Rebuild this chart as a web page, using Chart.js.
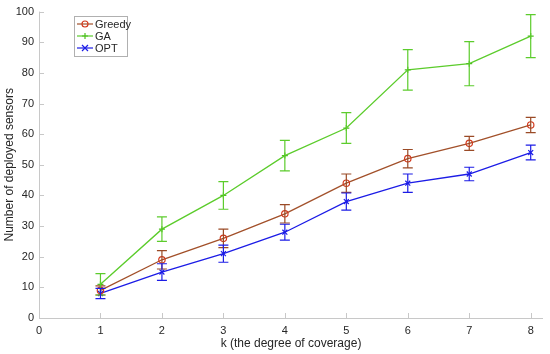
<!DOCTYPE html>
<html><head><meta charset="utf-8">
<script src="https://cdn.jsdelivr.net/npm/chart.js@4/dist/chart.umd.min.js"></script>
<style>html,body{margin:0;padding:0;background:#fff}#wrap{width:550px;height:354px}</style>
</head><body><div id="wrap"><canvas id="c" width="550" height="354"></canvas></div>
<script>
const kValues = [1,2,3,4,5,6,7,8];
const xTicks = [0,1,2,3,4,5,6,7,8];
const yTicks = [0,10,20,30,40,50,60,70,80,90,100];
const greedy = [9,19,26,34,44,52,57,63];
const greedyErr = [1.5,3,3,3,3,3,2.3,2.5];
const ga = [11,29,40,53,62,81,83,92];
const gaErr = [3.5,4,4.5,5,5,6.6,7.2,7];
const opt = [8,15,21,28,38,44,47,54];
const optErr = [1.7,2.7,2.8,2.6,2.8,3,2.2,2.4];
const seriesNames = ['Greedy','GA','OPT'];

const FONT = 'Liberation Sans, Arial, sans-serif';
const cols = {
  greedy:{line:'#a2502a', mark:'#d23a1e', err:'#9a4a26'},
  ga:{line:'#5ccc2c', mark:'#4ec020', err:'#5ccc2c'},
  opt:{line:'#1c1ce6', mark:'#1c1ce6', err:'#1c1ce6'}
};
function pts(v){return kValues.map((k,i)=>({x:k,y:v[i]}));}

const errPlugin = {
  id:'errbars',
  afterDatasetsDraw(chart){
    const ctx=chart.ctx, xs=chart.scales.x, ys=chart.scales.y;
    chart.data.datasets.forEach(ds=>{
      ctx.save(); ctx.strokeStyle=ds.errColor; ctx.lineWidth=1.2;
      ds.errs.forEach((e,i)=>{
        const px=xs.getPixelForValue(kValues[i]);
        const t=ys.getPixelForValue(ds.data[i].y+e), b=ys.getPixelForValue(ds.data[i].y-e);
        ctx.beginPath();
        ctx.moveTo(px,t);ctx.lineTo(px,b);
        ctx.moveTo(px-5,t);ctx.lineTo(px+5,t);
        ctx.moveTo(px-5,b);ctx.lineTo(px+5,b);
        ctx.stroke();
      });
      ctx.restore();
    });
  },
  afterDraw(chart){
    const ctx=chart.ctx, xs=chart.scales.x, ys=chart.scales.y, a=chart.chartArea;
    ctx.save();
    ctx.strokeStyle='#c8c8c8'; ctx.lineWidth=1;
    ctx.beginPath();
    ctx.moveTo(a.left+0.5,a.top);ctx.lineTo(a.left+0.5,a.bottom+0.5);ctx.lineTo(a.right,a.bottom+0.5);
    xTicks.forEach(v=>{const p=Math.round(xs.getPixelForValue(v))+0.5;ctx.moveTo(p,a.bottom);ctx.lineTo(p,a.bottom-5);});
    yTicks.forEach(v=>{const p=Math.round(ys.getPixelForValue(v))+0.5;ctx.moveTo(a.left,p);ctx.lineTo(a.left+5,p);});
    ctx.stroke();
    // legend
    const lx=74, ly=16, lw=53, lh=40;
    ctx.fillStyle='#fff'; ctx.fillRect(lx,ly,lw,lh);
    ctx.strokeStyle='#b0b0b0'; ctx.strokeRect(lx+0.5,ly+0.5,lw,lh);
    ctx.font='11px '+FONT; ctx.textBaseline='middle'; ctx.textAlign='left';
    chart.data.datasets.forEach((ds,i)=>{
      const y=ly+8+i*12;
      ctx.strokeStyle=ds.borderColor; ctx.lineWidth=1.2;
      ctx.beginPath();ctx.moveTo(lx+3,y);ctx.lineTo(lx+19,y);ctx.stroke();
      ctx.strokeStyle=ds.pointBorderColor;
      ctx.beginPath();
      if(ds.pointStyle==='circle'){ctx.arc(lx+11,y,3,0,Math.PI*2);}
      else if(ds.pointStyle==='cross'){ctx.moveTo(lx+8,y);ctx.lineTo(lx+14,y);ctx.moveTo(lx+11,y-3);ctx.lineTo(lx+11,y+3);}
      else {ctx.moveTo(lx+8,y-3);ctx.lineTo(lx+14,y+3);ctx.moveTo(lx+14,y-3);ctx.lineTo(lx+8,y+3);}
      ctx.stroke();
      ctx.fillStyle='#262626'; ctx.fillText(ds.label,lx+21,y+0.5);
    });
    ctx.restore();
  }
};

function mk(name,vals,errs,c,style,r){
  return {label:name,data:pts(vals),errs:errs,errColor:c.err,borderColor:c.line,borderWidth:1.3,
    pointStyle:style,pointRadius:r,pointBorderColor:c.mark,pointBackgroundColor:'rgba(0,0,0,0)',pointBorderWidth:1.2,
    showLine:true,fill:false,tension:0};
}

new Chart(document.getElementById('c'),{
  type:'scatter',
  data:{datasets:[
    mk(seriesNames[0],greedy,greedyErr,cols.greedy,'circle',3.2),
    mk(seriesNames[1],ga,gaErr,cols.ga,'cross',3),
    mk(seriesNames[2],opt,optErr,cols.opt,'crossRot',3.5)
  ]},
  options:{
    responsive:false,animation:false,devicePixelRatio:1,
    layout:{padding:{top:10,right:7,left:0,bottom:0}},
    plugins:{legend:{display:false},tooltip:{enabled:false}},
    scales:{
      x:{type:'linear',min:0,max:8.2,
        afterBuildTicks(s){s.ticks=xTicks.map(v=>({value:v}));},
        afterFit(s){s.height=36;},
        grid:{display:false,drawTicks:false},border:{display:false},
        ticks:{color:'#262626',font:{family:FONT,size:11},padding:6,maxRotation:0,autoSkip:false},
        title:{display:true,text:'k (the degree of coverage)',color:'#262626',font:{family:FONT,size:12},padding:{top:2,bottom:3}}
      },
      y:{type:'linear',min:0,max:100,
        afterBuildTicks(s){s.ticks=yTicks.map(v=>({value:v}));},
        afterFit(s){s.width=39;},
        grid:{display:false,drawTicks:false},border:{display:false},
        ticks:{color:'#262626',font:{family:FONT,size:11},padding:5,autoSkip:false},
        title:{display:true,text:'Number of deployed sensors',color:'#262626',font:{family:FONT,size:12},padding:{top:2,bottom:0}}
      }
    }
  },
  plugins:[errPlugin]
});
</script></body></html>
